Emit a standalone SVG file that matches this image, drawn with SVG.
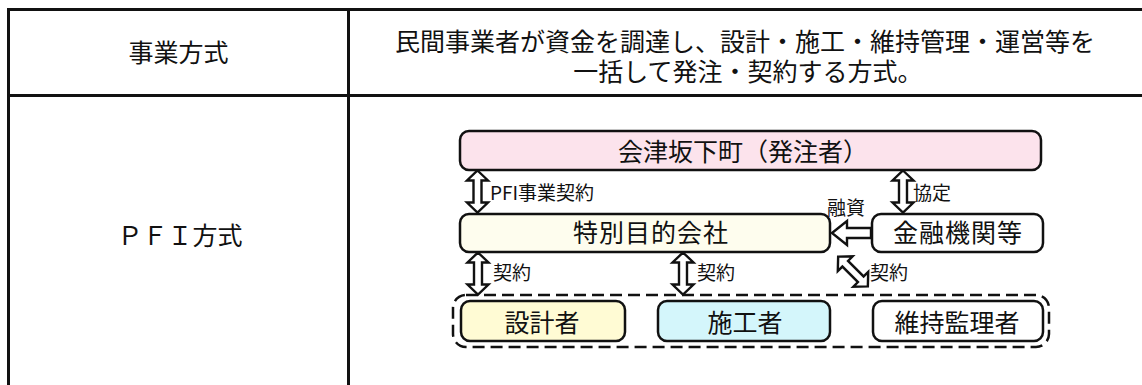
<svg xmlns="http://www.w3.org/2000/svg" width="1142" height="385" viewBox="0 0 1142 385">
<style>
text{font-family:"Noto Sans CJK JP","Noto Sans CJK SC",sans-serif;fill:#111}
.hd{font-size:25px;text-anchor:middle}
.nt{font-size:25px;text-anchor:middle}
.lb{font-size:19px}
.tbl{stroke:#111;stroke-width:3;fill:none}
.box{stroke:#111;stroke-width:2.5}
.arr{fill:#fff;stroke:#111;stroke-width:2.4;stroke-linejoin:miter}
</style>
<defs>
<path id="dbl" d="M0,-21 L10.5,-11 L4,-11 L4,11 L10.5,11 L0,21 L-10.5,11 L-4,11 L-4,-11 L-10.5,-11 Z"/>
</defs>
<rect width="1142" height="385" fill="#fff"/>
<g id="table">
<path class="tbl" d="M8.5,385 V9.5 H1142 M8.5,95.5 H1142 M348.5,9.5 V385"/>
<text class="hd" x="178.5" y="62">事業方式</text>
<text class="hd"><tspan x="745" y="51">民間事業者が資金を調達し、設計・施工・維持管理・運営等を</tspan><tspan x="748" y="81">一括して発注・契約する方式。</tspan></text>
<text class="hd" x="180" y="245">ＰＦＩ方式</text>
</g>
<g id="connectors">
<use href="#dbl" class="arr" transform="translate(477.5,191.5)"/>
<use href="#dbl" class="arr" transform="translate(903,191.5)"/>
<use href="#dbl" class="arr" transform="translate(478,273.5)"/>
<use href="#dbl" class="arr" transform="translate(683,273.5)"/>
<use href="#dbl" class="arr" transform="translate(853,271.5) rotate(-45)"/>
<polygon class="arr" points="832,233 847,221 847,228 871,228 871,238 847,238 847,245"/>
<text class="lb" x="490" y="200">PFI事業契約</text>
<text class="lb" x="913" y="200">協定</text>
<text class="lb" x="827" y="215">融資</text>
<text class="lb" x="493" y="280">契約</text>
<text class="lb" x="697" y="280">契約</text>
<text class="lb" x="870" y="280">契約</text>
</g>
<g id="group-contractors">
<rect x="453" y="295" width="596" height="52" rx="13" fill="none" stroke="#111" stroke-width="2.5" stroke-dasharray="12 6"/>
</g>
<g id="node-town">
<rect class="box" x="460" y="131" width="581" height="39" rx="9" fill="#fce3ec"/>
<text class="nt" x="743" y="161">会津坂下町（発注者）</text>
</g>
<g id="node-spc">
<rect class="box" x="460" y="214" width="370" height="38" rx="9" fill="#fefdee"/>
<text class="nt" x="651" y="242" letter-spacing="1">特別目的会社</text>
</g>
<g id="node-bank">
<rect class="box" x="872" y="214" width="171" height="38" rx="9" fill="#fff"/>
<text class="nt" x="958" y="242" letter-spacing="1">金融機関等</text>
</g>
<g id="node-design">
<rect class="box" x="461" y="301" width="164" height="40" rx="9" fill="#fffbd4"/>
<text class="nt" x="542" y="332">設計者</text>
</g>
<g id="node-build">
<rect class="box" x="658" y="301" width="172" height="40" rx="9" fill="#d4f6fb"/>
<text class="nt" x="745" y="332">施工者</text>
</g>
<g id="node-maint">
<rect class="box" x="873" y="301" width="170" height="40" rx="9" fill="#fff"/>
<text class="nt" x="957" y="332">維持監理者</text>
</g>
</svg>
